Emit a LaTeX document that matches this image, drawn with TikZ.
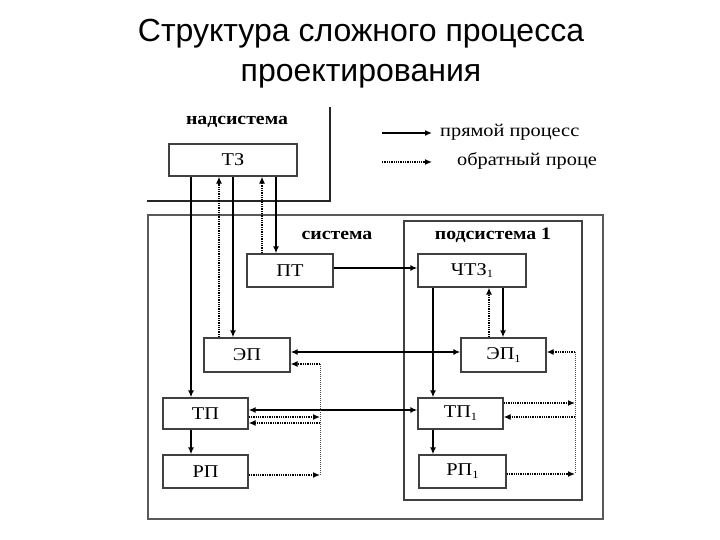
\documentclass[tikz,border=0pt]{standalone}
\usepackage{fontspec}
\setmainfont{Liberation Serif}
\newfontfamily\titlefont{Liberation Sans}
\newfontfamily\diagfont[FakeStretch=1.13]{Liberation Serif}
\usetikzlibrary{arrows.meta}
\newcommand{\lowone}{\raisebox{-0.35ex}{\fontsize{11}{12}\selectfont 1}}

\begin{document}
\begin{tikzpicture}[x=1pt, y=-1pt,
    blk/.style={draw=black!75, line width=1.3pt, inner sep=0pt,
                font=\diagfont\fontsize{18}{20}\selectfont},
    hdr/.style={font=\diagfont\fontsize{17.5}{19}\selectfont\bfseries, inner sep=0pt},
    lgd/.style={font=\diagfont\fontsize{18}{20}\selectfont, anchor=west, inner sep=0pt},
    fwd/.style={line width=1.6pt, -{Latex[length=7pt,width=6pt]}},
    both/.style={line width=1.8pt, {Latex[length=7pt,width=6pt]}-{Latex[length=7pt,width=6pt]}},
    back/.style={line width=1.3pt, densely dotted, -{Latex[length=7pt,width=6pt]}},
    backline/.style={line width=1pt, densely dotted, black!70}]
  \useasboundingbox (0,0) rectangle (720,540);
  \node[font=\titlefont\fontsize{32}{38}\selectfont, anchor=base] (title1) at (361,42)
    {Структура сложного процесса};
  \node[font=\titlefont\fontsize{32}{38}\selectfont, anchor=base] (title2) at (361,82)
    {проектирования};

  \draw[line width=2pt, black!85] (330,107) -- (330,201) -- (147,201);
  \draw[line width=2.2pt, black!65] (148,215) rectangle (603,519);
  \draw[line width=1.7pt, black!75] (404,221) rectangle (582,500);
  \node[hdr] (nads) at (237,122) {надсистема};
  \node[hdr] (sys) at (337,235) {система};
  \node[hdr] (subs) at (493,235) {подсистема 1};

  \node[blk, minimum width=128, minimum height=32] (tz) at (233,160) {ТЗ};
  \node[blk, minimum width=86, minimum height=33] (pt) at (290,270.5) {ПТ};
  \node[blk, minimum width=108, minimum height=33] (chtz) at (472,270.5) {ЧТЗ\lowone};
  \node[blk, minimum width=86, minimum height=34] (ep) at (247,355) {ЭП};
  \node[blk, minimum width=85, minimum height=34] (ep1) at (503.5,355) {ЭП\lowone};
  \node[blk, minimum width=85, minimum height=31] (tp) at (205.5,413.5) {ТП};
  \node[blk, minimum width=85, minimum height=31] (tp1) at (460.5,413.5) {ТП\lowone};
  \node[blk, minimum width=85, minimum height=33] (rp) at (205.5,471.5) {РП};
  \node[blk, minimum width=87, minimum height=33] (rp1) at (462.5,471.5) {РП\lowone};

  \coordinate (xa) at (191,0);  \coordinate (xb) at (219,0);
  \coordinate (xc) at (233,0);  \coordinate (xd) at (262,0);
  \coordinate (xe) at (276,0);  \coordinate (xf) at (433,0);
  \coordinate (xg) at (489,0);  \coordinate (xh) at (503,0);

  \draw[fwd] (tz.south -| xa) -- (tp.north -| xa);
  \draw[back] (ep.north -| xb) -- (tz.south -| xb);
  \draw[fwd] (tz.south -| xc) -- (ep.north -| xc);
  \draw[back] (pt.north -| xd) -- (tz.south -| xd);
  \draw[fwd] (tz.south -| xe) -- (pt.north -| xe);
  \coordinate (ptrow) at (0,268);
  \draw[fwd, line width=1.8pt] (pt.east |- ptrow) -- (chtz.west |- ptrow);
  \draw[fwd] (chtz.south -| xf) -- (tp1.north -| xf);
  \draw[back] (ep1.north -| xg) -- (chtz.south -| xg);
  \draw[fwd] (chtz.south -| xh) -- (ep1.north -| xh);
  \draw[fwd] (tp.south -| xa) -- (rp.north -| xa);
  \draw[fwd] (tp1.south -| xf) -- (rp1.north -| xf);

  \coordinate (eprow) at (0,352);  \coordinate (tprow) at (0,410);
  \draw[both] (ep.east |- eprow) -- (ep1.west |- eprow);
  \draw[both] (tp.east |- tprow) -- (tp1.west |- tprow);

  \coordinate (bl1) at (320,364);  \coordinate (bl2) at (320,475);
  \coordinate (tlo) at (320,417);  \coordinate (tli) at (320,423);
  \draw[backline] (bl1) -- (bl2);
  \draw[back] (bl1) -- (ep.east |- bl1);
  \draw[back] (tp.east |- tlo) -- (tlo);
  \draw[back] (tli) -- (tp.east |- tli);
  \draw[back] (rp.east |- bl2) -- (bl2);

  \coordinate (br1) at (575,352);  \coordinate (br2) at (575,474);
  \coordinate (tro) at (575,403);  \coordinate (tri) at (575,417);
  \draw[backline] (br1) -- (br2);
  \draw[back] (br1) -- (ep1.east |- br1);
  \draw[back] (tp1.east |- tro) -- (tro);
  \draw[back] (tri) -- (tp1.east |- tri);
  \draw[back] (rp1.east |- br2) -- (br2);

  \node[lgd] (lgf) at (440,132) {прямой процесс};
  \node[lgd] (lgb) at (457,161) {обратный проце};
  \coordinate (lf) at (382,133);  \coordinate (lb) at (382,162);
  \draw[fwd] (lf) -- ++(50,0);
  \draw[back] (lb) -- ++(50,0);
\end{tikzpicture}
\end{document}
